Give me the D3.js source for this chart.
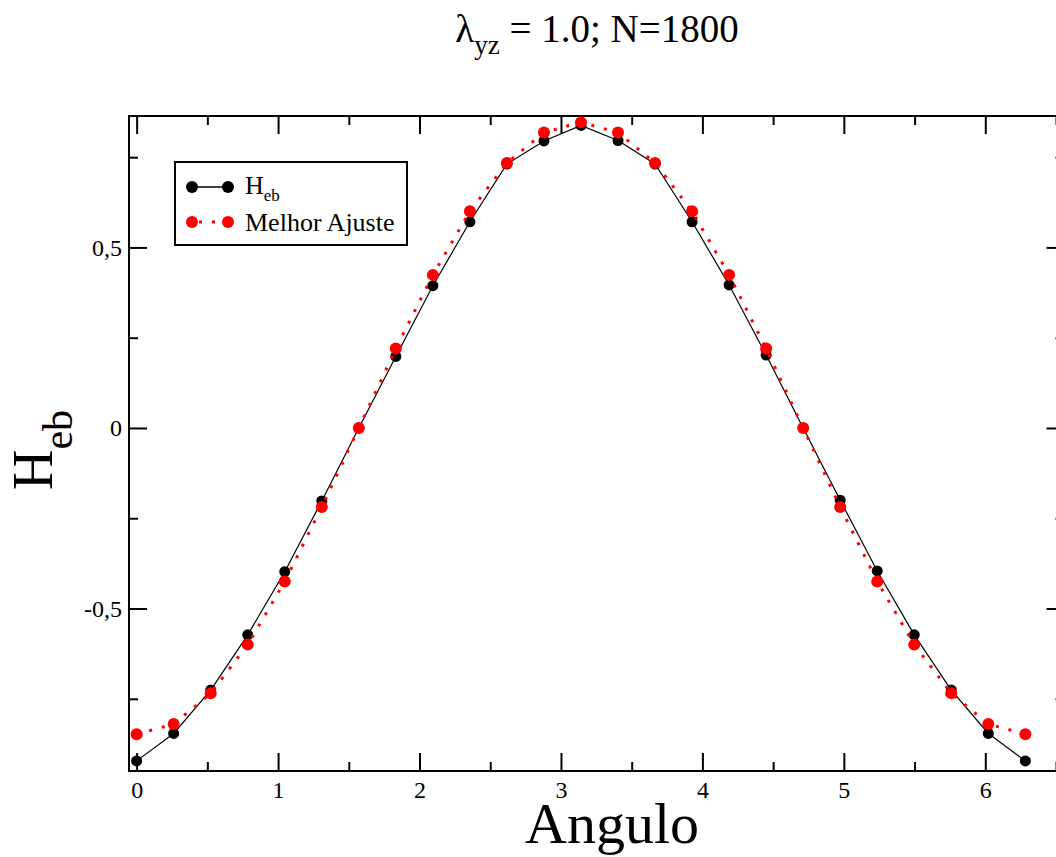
<!DOCTYPE html>
<html>
<head>
<meta charset="utf-8">
<script src="https://cdn.jsdelivr.net/npm/d3@7"></script>
<style>
  html, body { margin: 0; padding: 0; background: #fff; }
  svg { display: block; }
</style>
</head>
<body>
<svg id="chart" width="1056" height="857"></svg>
<script>
// Angles (rad), sampled every pi/12
const angles = [0, 0.2618, 0.5236, 0.7854, 1.0472, 1.3090, 1.5708, 1.8326, 2.0944,
  2.3562, 2.6180, 2.8798, 3.1416, 3.4034, 3.6652, 3.9270, 4.1888, 4.4506, 4.7124,
  4.9742, 5.2360, 5.4978, 5.7596, 6.0214, 6.2832];

// H_eb measured
const heb = [-0.922, -0.846, -0.726, -0.573, -0.398, -0.202, 0.000, 0.198, 0.394,
  0.571, 0.731, 0.795, 0.838, 0.796, 0.731, 0.571, 0.396, 0.202, 0.000,
  -0.200, -0.396, -0.573, -0.726, -0.846, -0.922];

// Best fit
const fit = [-0.848, -0.820, -0.735, -0.600, -0.425, -0.219, 0.000, 0.220, 0.424,
  0.600, 0.734, 0.818, 0.847, 0.818, 0.734, 0.600, 0.424, 0.220, 0.000,
  -0.219, -0.425, -0.600, -0.735, -0.820, -0.848];

const xMajor = [0, 1, 2, 3, 4, 5, 6];
const xMinor = [0.5, 1.5, 2.5, 3.5, 4.5, 5.5, 6.5];
const yMajor = [-0.5, 0, 0.5];
const yMinor = [-0.75, -0.25, 0.25, 0.75];
const yLabels = ["-0,5", "0", "0,5"];

const seriesNames = ["H", "Melhor Ajuste"];

const SERIF = '"Liberation Serif", "Times New Roman", serif';

const svg = d3.select("#chart");
const plot = { left: 129, right: 1064.5, top: 116, bottom: 771 };

const x = d3.scaleLinear().domain([-0.054, 6.56]).range([plot.left, plot.right]);
const y = d3.scaleLinear().domain([-0.950, 0.864]).range([plot.bottom, plot.top]);

const majorLen = 18, minorLen = 9;

// Axes with inward ticks
function styleAxis(g) {
  g.selectAll(".domain").remove();
  g.selectAll(".tick line").attr("stroke", "#000").attr("stroke-width", 2);
  g.selectAll(".tick text").style("font-family", SERIF).style("font-size", "24px")
    .attr("fill", "#000");
}

// bottom
svg.append("g").attr("transform", `translate(0,${plot.bottom})`)
  .call(d3.axisBottom(x).tickValues(xMinor).tickSize(-minorLen).tickFormat(""))
  .call(styleAxis);
svg.append("g").attr("transform", `translate(0,${plot.bottom})`)
  .call(d3.axisBottom(x).tickValues(xMajor).tickSize(-majorLen).tickPadding(10)
    .tickFormat(d3.format("d")))
  .call(styleAxis);
// top
svg.append("g").attr("transform", `translate(0,${plot.top})`)
  .call(d3.axisTop(x).tickValues(xMinor).tickSize(-minorLen).tickFormat(""))
  .call(styleAxis);
svg.append("g").attr("transform", `translate(0,${plot.top})`)
  .call(d3.axisTop(x).tickValues(xMajor).tickSize(-majorLen).tickFormat(""))
  .call(styleAxis);
// left
svg.append("g").attr("transform", `translate(${plot.left},0)`)
  .call(d3.axisLeft(y).tickValues(yMinor).tickSize(-minorLen).tickFormat(""))
  .call(styleAxis);
svg.append("g").attr("transform", `translate(${plot.left},0)`)
  .call(d3.axisLeft(y).tickValues(yMajor).tickSize(-majorLen).tickPadding(7)
    .tickFormat((d, i) => yLabels[i]))
  .call(styleAxis);
// right
svg.append("g").attr("transform", `translate(${plot.right},0)`)
  .call(d3.axisRight(y).tickValues(yMinor).tickSize(-minorLen).tickFormat(""))
  .call(styleAxis);
svg.append("g").attr("transform", `translate(${plot.right},0)`)
  .call(d3.axisRight(y).tickValues(yMajor).tickSize(-majorLen).tickFormat(""))
  .call(styleAxis);

// frame
svg.append("rect")
  .attr("x", plot.left).attr("y", plot.top)
  .attr("width", plot.right - plot.left).attr("height", plot.bottom - plot.top)
  .attr("fill", "none").attr("stroke", "#000").attr("stroke-width", 2);

const line = d3.line().x(d => x(d[0])).y(d => y(d[1]));
const hebPts = angles.map((a, i) => [a, heb[i]]);
const fitPts = angles.map((a, i) => [a, fit[i]]);

// H_eb: solid black line with circles
svg.append("path").datum(hebPts).attr("d", line)
  .attr("fill", "none").attr("stroke", "#000").attr("stroke-width", 1.2);
svg.append("g").selectAll("circle").data(hebPts).join("circle")
  .attr("cx", d => x(d[0])).attr("cy", d => y(d[1])).attr("r", 5.5).attr("fill", "#000");

// fit: red dotted line with circles
svg.append("path").datum(fitPts).attr("d", line)
  .attr("fill", "none").attr("stroke", "#f00").attr("stroke-width", 3)
  .attr("stroke-dasharray", "3 10");
svg.append("g").selectAll("circle").data(fitPts).join("circle")
  .attr("cx", d => x(d[0])).attr("cy", d => y(d[1])).attr("r", 6).attr("fill", "#f00");

// legend
const lg = svg.append("g");
lg.append("rect").attr("x", 175).attr("y", 162).attr("width", 232).attr("height", 83)
  .attr("fill", "#fff").attr("stroke", "#000").attr("stroke-width", 2);
lg.append("line").attr("x1", 192).attr("x2", 228).attr("y1", 187).attr("y2", 187)
  .attr("stroke", "#000").attr("stroke-width", 1.5);
[192, 228].forEach(cx => lg.append("circle").attr("cx", cx).attr("cy", 187).attr("r", 6).attr("fill", "#000"));
lg.append("line").attr("x1", 192).attr("x2", 228).attr("y1", 222).attr("y2", 222)
  .attr("stroke", "#f00").attr("stroke-width", 3).attr("stroke-dasharray", "3 10")
  .attr("stroke-dashoffset", -7);
[192, 228].forEach(cx => lg.append("circle").attr("cx", cx).attr("cy", 222).attr("r", 6).attr("fill", "#f00"));
const t1 = lg.append("text").attr("x", 245).attr("y", 194)
  .style("font-family", SERIF).style("font-size", "26px");
t1.append("tspan").text(seriesNames[0]);
t1.append("tspan").style("font-size", "17px").attr("dy", 7).text("eb");
lg.append("text").attr("x", 245).attr("y", 231)
  .style("font-family", SERIF).style("font-size", "26px").text(seriesNames[1]);

// title
const title = svg.append("text").attr("x", 597).attr("y", 42).attr("text-anchor", "middle")
  .style("font-family", SERIF).style("font-size", "39px");
title.append("tspan").text("λ");
title.append("tspan").style("font-size", "27px").attr("dy", 12).text("yz");
title.append("tspan").attr("dy", -12).text(" = 1.0; N=1800");

// x axis title
svg.append("text").attr("x", 612).attr("y", 843).attr("text-anchor", "middle")
  .style("font-family", SERIF).style("font-size", "58px").text("Angulo");

// y axis title
const yt = svg.append("text").attr("transform", "translate(52,450) rotate(-90)")
  .attr("text-anchor", "middle").style("font-family", SERIF).style("font-size", "56px");
yt.append("tspan").text("H");
yt.append("tspan").style("font-size", "42px").attr("dy", 20).text("eb");
</script>
</body>
</html>
